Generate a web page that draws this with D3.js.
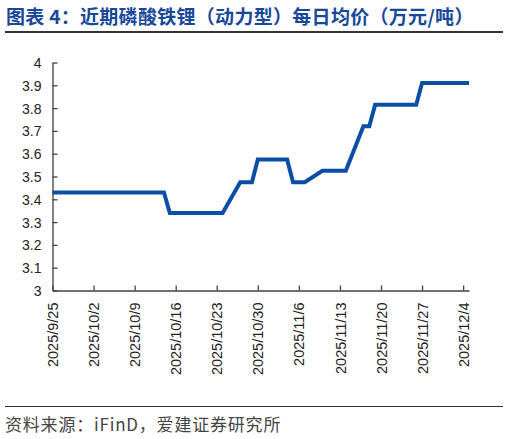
<!DOCTYPE html>
<html>
<head>
<meta charset="utf-8">
<script src="https://cdn.jsdelivr.net/npm/d3@7"></script>
<style>
  body { margin: 0; background: #fff; }
  svg { display: block; }
</style>
</head>
<body>
<div id="chart"></div>
<script>
// trading days and daily average price (10k yuan / ton)
const dates = [
  "2025-09-25", "2025-09-26", "2025-09-29", "2025-09-30", "2025-10-09", "2025-10-10", "2025-10-13",
  "2025-10-14", "2025-10-15", "2025-10-16", "2025-10-17", "2025-10-20", "2025-10-21", "2025-10-22",
  "2025-10-23", "2025-10-24", "2025-10-27", "2025-10-28", "2025-10-29", "2025-10-30", "2025-10-31",
  "2025-11-03", "2025-11-04", "2025-11-05", "2025-11-06", "2025-11-07", "2025-11-10", "2025-11-11",
  "2025-11-12", "2025-11-13", "2025-11-14", "2025-11-17", "2025-11-18", "2025-11-19", "2025-11-20",
  "2025-11-21", "2025-11-24", "2025-11-25", "2025-11-26", "2025-11-27", "2025-11-28", "2025-12-01",
  "2025-12-02", "2025-12-03", "2025-12-04", "2025-12-05"
];
const prices = [
  3.43, 3.43, 3.43, 3.43, 3.43, 3.43, 3.43,
  3.43, 3.34, 3.34, 3.34, 3.34, 3.34, 3.34,
  3.34, 3.34, 3.475, 3.475, 3.475, 3.575, 3.575,
  3.575, 3.575, 3.475, 3.475, 3.475, 3.525, 3.525,
  3.525, 3.525, 3.525, 3.72, 3.72, 3.815, 3.815,
  3.815, 3.815, 3.815, 3.815, 3.91, 3.91, 3.91,
  3.91, 3.91, 3.91, 3.91
];
const xTickLabels = ["2025/9/25", "2025/10/2", "2025/10/9", "2025/10/16", "2025/10/23", "2025/10/30",
  "2025/11/6", "2025/11/13", "2025/11/20", "2025/11/27", "2025/12/4"];
const yTicks = [3, 3.1, 3.2, 3.3, 3.4, 3.5, 3.6, 3.7, 3.8, 3.9, 4];

const width = 508, height = 439;
const parse = d3.timeParse("%Y-%m-%d");
const parseTick = d3.timeParse("%Y/%m/%d");
const data = dates.map((d, i) => ({ date: parse(d), value: prices[i] }));

const svg = d3.select("#chart").append("svg")
  .attr("width", width)
  .attr("height", height);

const axisColor = "#404040";
const blue = "#0b4ea6";

// title
svg.append("text")
  .attr("x", 6)
  .attr("y", 23.5)
  .attr("fill", "#17489a")
  .style("font-family", "'Noto Sans CJK SC', sans-serif")
  .style("font-weight", "bold")
  .style("font-size", "19px")
  .style("letter-spacing", "0.3px")
  .text("图表 4：近期磷酸铁锂（动力型）每日均价（万元/吨）");

svg.append("line")
  .attr("x1", 5).attr("x2", 503)
  .attr("y1", 32).attr("y2", 32)
  .attr("stroke", "#333")
  .attr("stroke-width", 2);

const x = d3.scaleTime()
  .domain([parse("2025-09-25"), parse("2025-12-05")])
  .range([52.5, 469]);
const y = d3.scaleLinear()
  .domain([3, 4])
  .range([290.5, 62.5]);

// y axis (ticks pointing inward)
const yAxis = svg.append("g")
  .attr("transform", "translate(52.5,0)")
  .call(d3.axisRight(y).tickValues(yTicks).tickSize(5).tickSizeOuter(0).tickFormat(d3.format("")));
yAxis.select(".domain").attr("stroke", axisColor).attr("stroke-width", 1.3);
yAxis.selectAll(".tick line").attr("stroke", axisColor).attr("stroke-width", 1.3);
yAxis.selectAll(".tick text")
  .attr("x", -11)
  .attr("dy", "0.35em")
  .attr("text-anchor", "end")
  .attr("fill", "#222")
  .style("font-family", "'Liberation Sans', Arial, sans-serif")
  .style("font-size", "14px");

// x axis (ticks pointing up)
const xTicks = xTickLabels.map(parseTick);
const xAxis = svg.append("g")
  .attr("transform", "translate(0,290.5)")
  .call(d3.axisTop(x).tickValues(xTicks).tickSize(5).tickSizeOuter(0).tickFormat((d, i) => xTickLabels[i]));
xAxis.select(".domain").attr("stroke", axisColor).attr("stroke-width", 1.3);
xAxis.selectAll(".tick line").attr("stroke", axisColor).attr("stroke-width", 1.3);
xAxis.selectAll(".tick text")
  .attr("transform", "rotate(-90)")
  .attr("x", -12)
  .attr("y", 0)
  .attr("dy", "0.35em")
  .attr("text-anchor", "end")
  .attr("fill", "#222")
  .style("font-family", "'Liberation Sans', Arial, sans-serif")
  .style("font-size", "14.5px");

// price line
const line = d3.line()
  .x(d => x(d.date))
  .y(d => y(d.value));
svg.append("path")
  .datum(data)
  .attr("fill", "none")
  .attr("stroke", blue)
  .attr("stroke-width", 4)
  .attr("stroke-linejoin", "miter")
  .attr("d", line);

// source
svg.append("line")
  .attr("x1", 5).attr("x2", 503)
  .attr("y1", 406.5).attr("y2", 406.5)
  .attr("stroke", "#333")
  .attr("stroke-width", 1);

svg.append("text")
  .attr("x", 5)
  .attr("y", 431)
  .attr("fill", "#444")
  .style("font-family", "'Noto Sans CJK SC', sans-serif")
  .style("font-size", "17px")
  .style("letter-spacing", "0.8px")
  .text("资料来源：iFinD，爱建证券研究所");
</script>
</body>
</html>
